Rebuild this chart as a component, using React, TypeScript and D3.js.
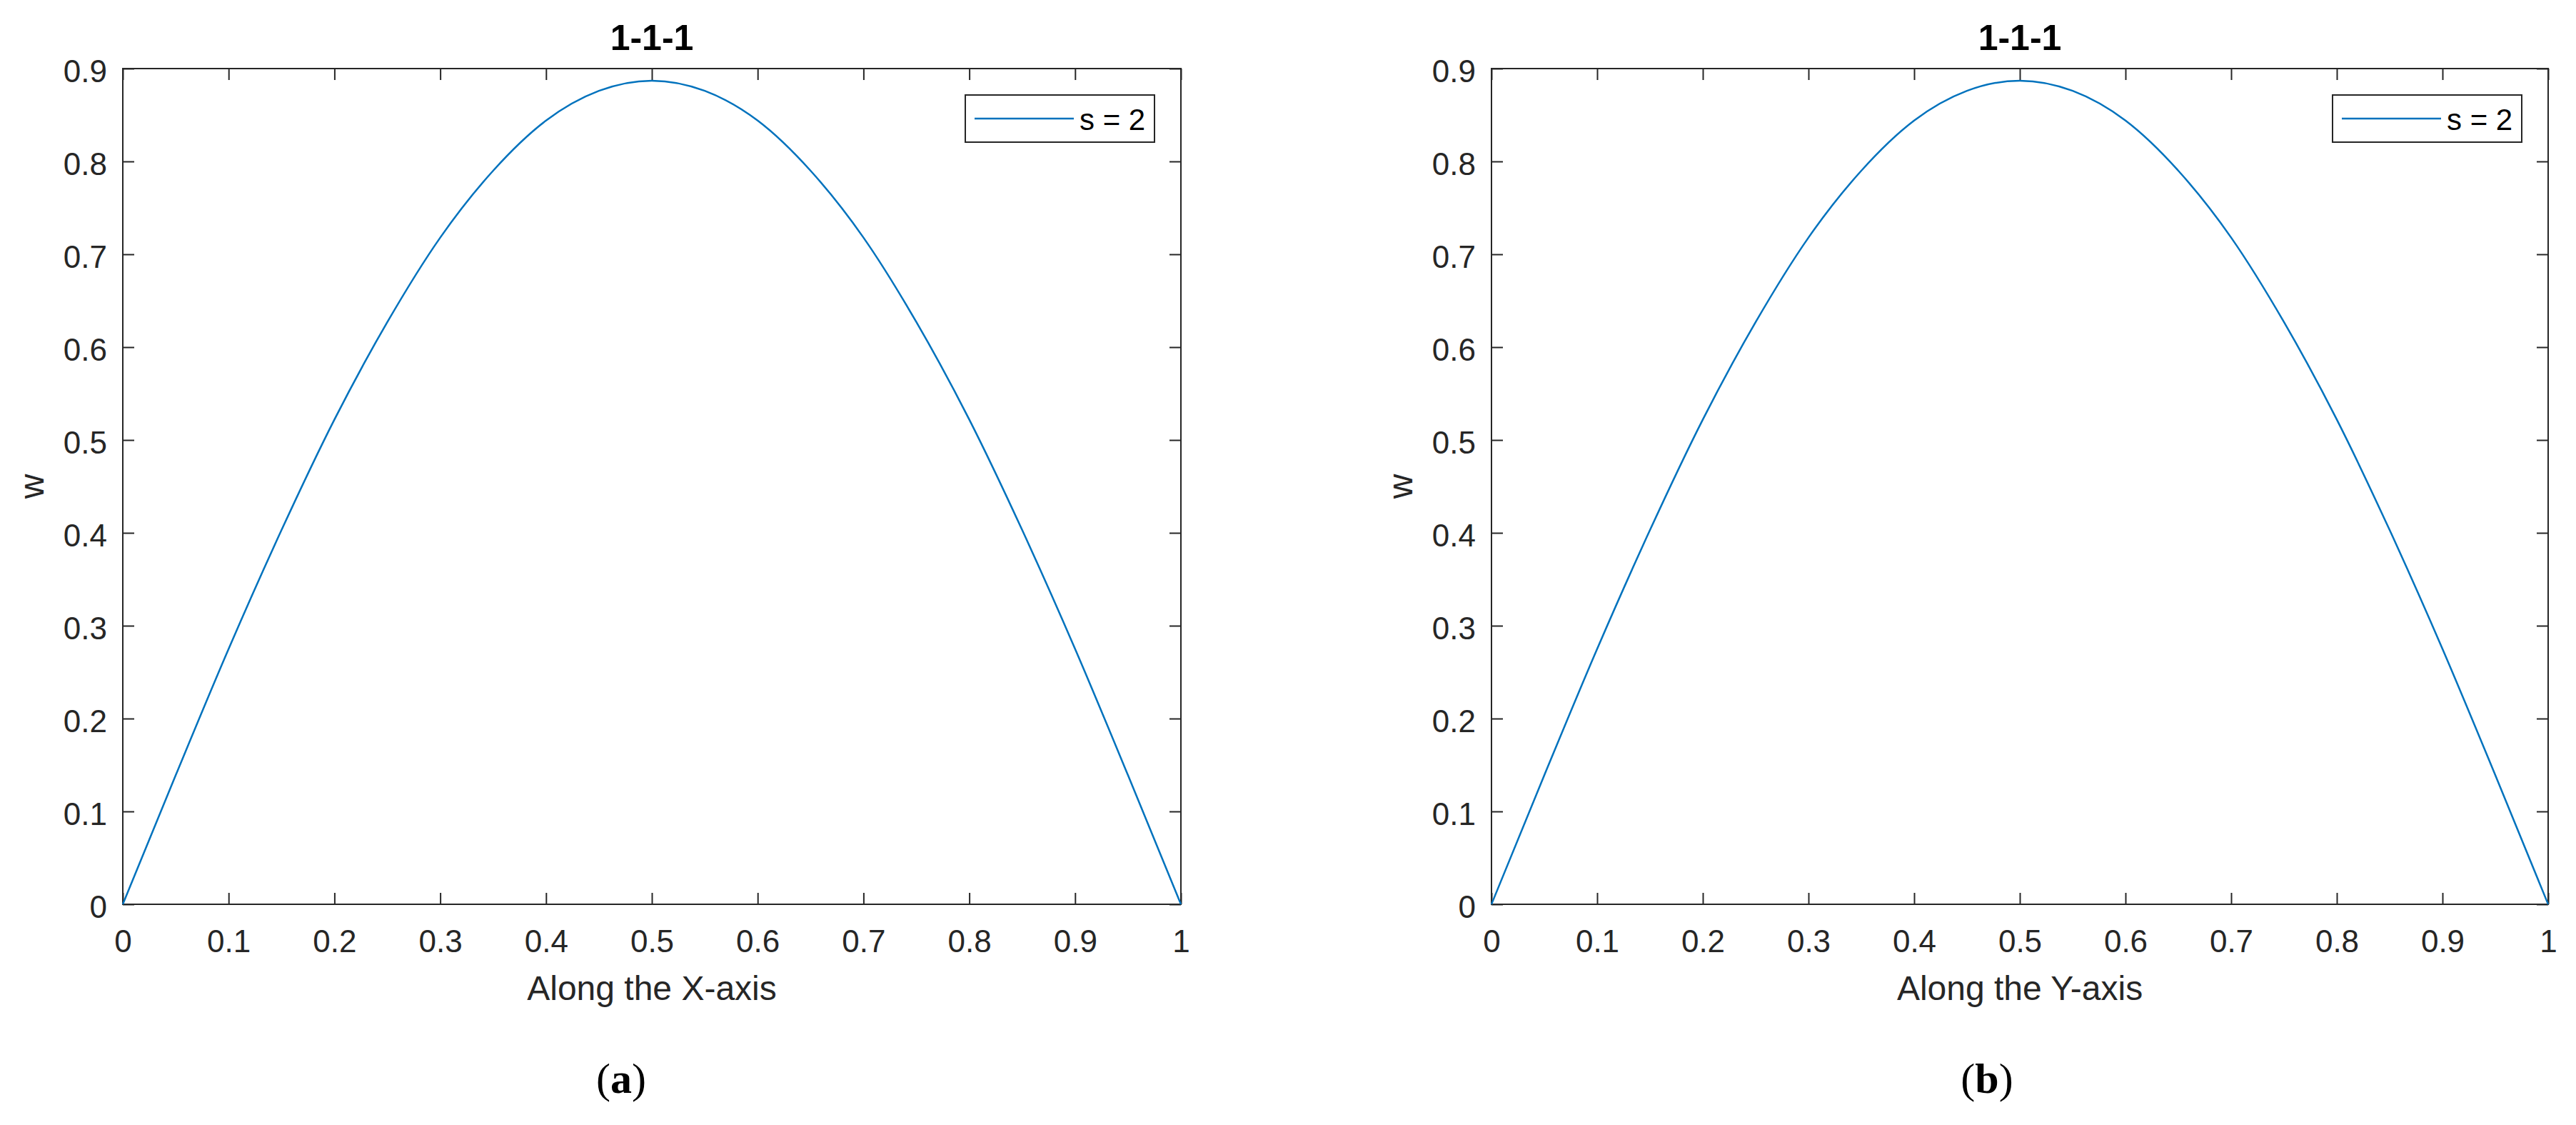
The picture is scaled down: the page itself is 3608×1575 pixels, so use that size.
import React, { useRef, useEffect } from 'react';
import * as d3 from 'd3';

// values (s = 2)
const positions = [0, 0.05, 0.1, 0.15, 0.2, 0.25, 0.3, 0.35, 0.4, 0.45, 0.5, 0.55, 0.6, 0.65, 0.7, 0.75, 0.8, 0.85, 0.9, 0.95, 1];
const wAlongX = [0, 0.139, 0.275, 0.403, 0.522, 0.627, 0.718, 0.79, 0.844, 0.876, 0.887, 0.876, 0.844, 0.79, 0.718, 0.627, 0.522, 0.403, 0.275, 0.139, 0];
const wAlongY = [0, 0.139, 0.275, 0.403, 0.522, 0.627, 0.718, 0.79, 0.844, 0.876, 0.887, 0.876, 0.844, 0.79, 0.718, 0.627, 0.522, 0.403, 0.275, 0.139, 0];
const xTicks = [0, 0.1, 0.2, 0.3, 0.4, 0.5, 0.6, 0.7, 0.8, 0.9, 1];
const yTicks = [0, 0.1, 0.2, 0.3, 0.4, 0.5, 0.6, 0.7, 0.8, 0.9];
const panelTitles = ['1-1-1', '1-1-1'];
const xLabels = ['Along the X-axis', 'Along the Y-axis'];
const captions = ['a', 'b'];
const seriesName = 's = 2';

const FONT = "'Liberation Sans', Arial, Helvetica, sans-serif";
const AX = '#262626';
const BLUE = '#0072BD';

const Panel = ({ left, right, top, bottom, values, title, xLabel, caption, captionX }) => {
  const ref = useRef(null);

  useEffect(() => {
    const g = d3.select(ref.current);
    g.selectAll('*').remove();

    const x = d3.scaleLinear().domain([0, 1]).range([left, right]);
    const y = d3.scaleLinear().domain([0, 0.9]).range([bottom, top]);

    const styleAxis = sel => {
      sel.select('.domain').remove();
      sel.attr('font-size', null).attr('font-family', null);
      sel.selectAll('line').attr('stroke', AX).attr('stroke-width', 2);
      sel.selectAll('text').attr('fill', AX).style('font-size', '44px').style('font-family', FONT);
    };

    g.append('g')
      .attr('transform', `translate(0, ${bottom})`)
      .call(d3.axisBottom(x).tickValues(xTicks).tickFormat(d => String(d)).tickSizeInner(-16).tickSizeOuter(0).tickPadding(36))
      .call(styleAxis);

    g.append('g')
      .attr('transform', `translate(0, ${top})`)
      .call(d3.axisTop(x).tickValues(xTicks).tickFormat(() => '').tickSizeInner(-16).tickSizeOuter(0))
      .call(styleAxis);

    const yAxis = g.append('g')
      .attr('transform', `translate(${left}, 0)`)
      .call(d3.axisLeft(y).tickValues(yTicks).tickFormat(d => String(d)).tickSizeInner(-16).tickSizeOuter(0).tickPadding(22))
      .call(styleAxis);
    yAxis.selectAll('text').attr('dy', '0.43em');

    g.append('g')
      .attr('transform', `translate(${right}, 0)`)
      .call(d3.axisRight(y).tickValues(yTicks).tickFormat(() => '').tickSizeInner(-16).tickSizeOuter(0))
      .call(styleAxis);

    g.append('rect')
      .attr('x', left)
      .attr('y', top)
      .attr('width', right - left)
      .attr('height', bottom - top)
      .attr('fill', 'none')
      .attr('stroke', AX)
      .attr('stroke-width', 2);

    const line = d3.line()
      .x(d => x(d[0]))
      .y(d => y(d[1]))
      .curve(d3.curveMonotoneX);

    g.append('path')
      .datum(positions.map((p, i) => [p, values[i]]))
      .attr('d', line)
      .attr('fill', 'none')
      .attr('stroke', BLUE)
      .attr('stroke-width', 2.5);

    // legend
    const lw = 265;
    const lh = 66;
    const lx = right - 37 - lw;
    const ly = top + 37;
    g.append('rect')
      .attr('x', lx)
      .attr('y', ly)
      .attr('width', lw)
      .attr('height', lh)
      .attr('fill', '#fff')
      .attr('stroke', AX)
      .attr('stroke-width', 2);
    g.append('line')
      .attr('x1', lx + 13)
      .attr('x2', lx + 152)
      .attr('y1', ly + lh / 2)
      .attr('y2', ly + lh / 2)
      .attr('stroke', BLUE)
      .attr('stroke-width', 2.5);
    g.append('text')
      .attr('x', lx + 160)
      .attr('y', ly + lh / 2 + 16)
      .attr('fill', '#000')
      .style('font-size', '42px')
      .style('font-family', FONT)
      .text(seriesName);

    const cx = (left + right) / 2;
    const cy = (top + bottom) / 2;

    g.append('text')
      .attr('x', cx)
      .attr('y', 70)
      .attr('text-anchor', 'middle')
      .attr('fill', '#000')
      .style('font-size', '50px')
      .style('font-weight', 'bold')
      .style('font-family', FONT)
      .text(title);

    g.append('text')
      .attr('x', cx)
      .attr('y', 1400)
      .attr('text-anchor', 'middle')
      .attr('fill', AX)
      .style('font-size', '48px')
      .style('font-family', FONT)
      .text(xLabel);

    g.append('text')
      .attr('transform', `translate(${left - 111}, ${cy}) rotate(-90)`)
      .attr('text-anchor', 'middle')
      .attr('fill', AX)
      .style('font-size', '48px')
      .style('font-family', FONT)
      .text('w');

    const cap = g.append('text')
      .attr('x', captionX)
      .attr('y', 1530)
      .attr('text-anchor', 'middle')
      .attr('fill', '#000')
      .style('font-size', '60px')
      .style('font-family', "'Liberation Serif', 'DejaVu Serif', serif");
    cap.append('tspan').text('(');
    cap.append('tspan').style('font-weight', 'bold').text(caption);
    cap.append('tspan').text(')');
  });

  return <g ref={ref} />;
};

const App = () => {
  return (
    <svg
      width={3608}
      height={1575}
      style={{ position: 'absolute', left: 0, top: 0, background: '#fff' }}
    >
      <rect x={0} y={0} width={3608} height={1575} fill="#fff" />
      <Panel
        left={172}
        right={1654}
        top={96}
        bottom={1266}
        values={wAlongX}
        title={panelTitles[0]}
        xLabel={xLabels[0]}
        caption={captions[0]}
        captionX={870}
      />
      <Panel
        left={2089}
        right={3569}
        top={96}
        bottom={1266}
        values={wAlongY}
        title={panelTitles[1]}
        xLabel={xLabels[1]}
        caption={captions[1]}
        captionX={2783}
      />
    </svg>
  );
};

export default App;
